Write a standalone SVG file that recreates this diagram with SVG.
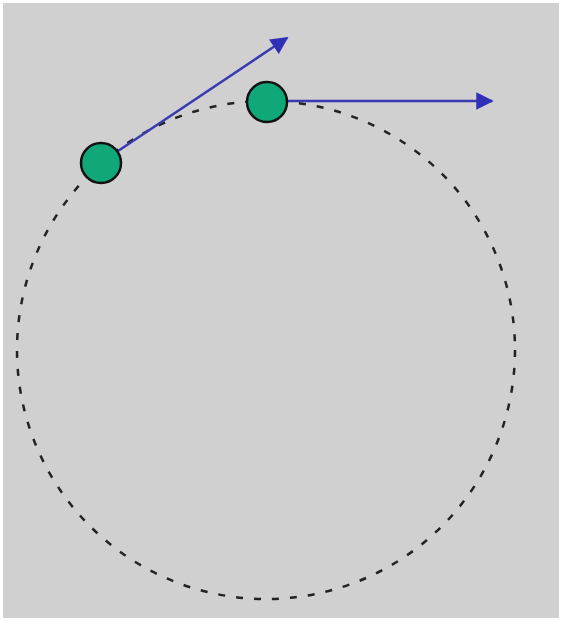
<svg xmlns="http://www.w3.org/2000/svg" width="562" height="622" viewBox="0 0 562 622">
<style>
.ball{fill:#10a878;stroke:#111;stroke-width:2.5}
.vec{stroke:#3a3ab0;stroke-width:2.5;fill:none;marker-end:url(#ah)}
</style>
<defs>
<marker id="ah" viewBox="0 0 10 10" refX="9" refY="5" markerWidth="8" markerHeight="7" markerUnits="strokeWidth" orient="auto">
<path d="M0,0 L10,5 L0,10 z" fill="#2f2fb8"/>
</marker>
</defs>
<rect width="562" height="622" fill="#ffffff"/>
<rect x="3" y="3" width="556" height="615" fill="#d0d0d0"/>
<g id="orbit">
<circle cx="266" cy="350" r="249" fill="none" stroke="#222" stroke-width="2.5" stroke-dasharray="7 11"/>
</g>
<g id="connectors">
<line class="vec" x1="118" y1="151" x2="287" y2="38"/>
<line class="vec" x1="286" y1="101" x2="492" y2="101"/>
</g>
<g id="ball1"><circle class="ball" cx="101" cy="163" r="20"/></g>
<g id="ball2"><circle class="ball" cx="267" cy="102" r="20"/></g>
</svg>
